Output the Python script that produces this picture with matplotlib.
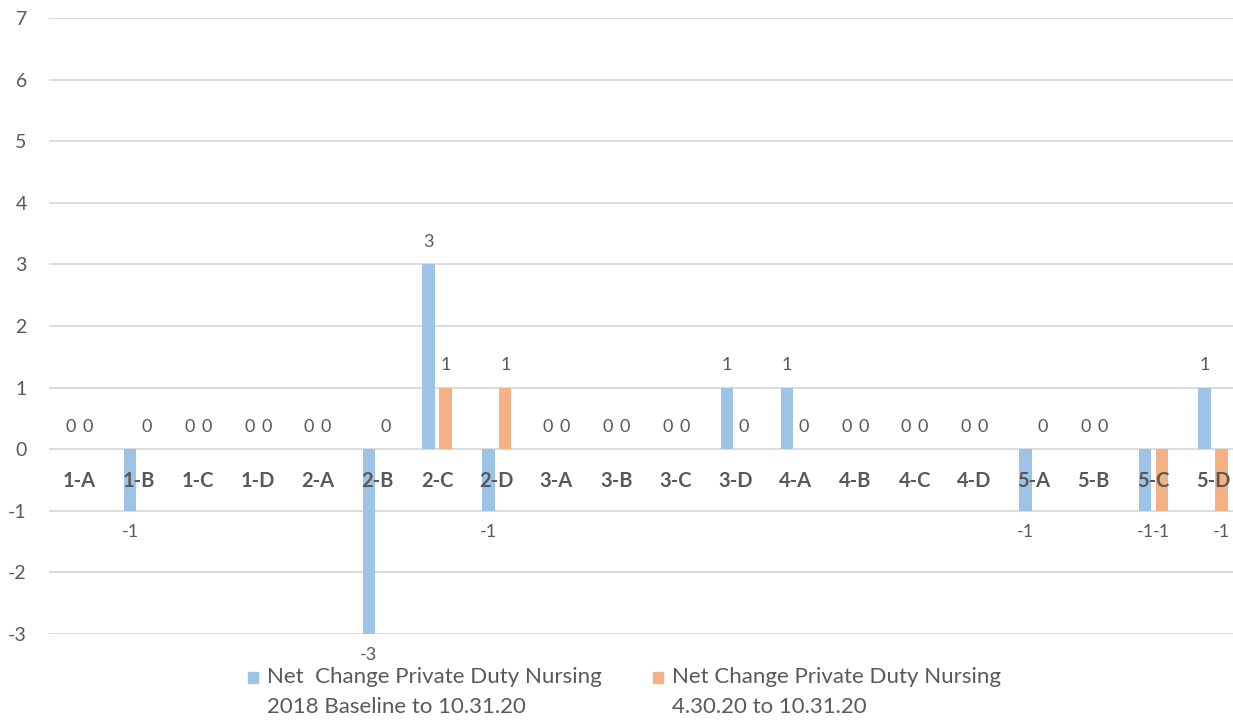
import matplotlib.pyplot as plt
from matplotlib.patches import Rectangle

categories = ["1-A", "1-B", "1-C", "1-D", "2-A", "2-B", "2-C", "2-D",
              "3-A", "3-B", "3-C", "3-D", "4-A", "4-B", "4-C", "4-D",
              "5-A", "5-B", "5-C", "5-D"]
since_baseline = [0, -1, 0, 0, 0, -3, 3, -1, 0, 0, 0, 1, 1, 0, 0, 0, -1, 0, -1, 1]
since_april = [0, 0, 0, 0, 0, 0, 1, 1, 0, 0, 0, 0, 0, 0, 0, 0, 0, 0, -1, -1]
series_names = ["Net  Change Private Duty Nursing\n2018 Baseline to 10.31.20",
                "Net Change Private Duty Nursing\n4.30.20 to 10.31.20"]
y_ticks = list(range(-3, 8))

BLUE = "#9DC3E6"
ORANGE = "#F4B183"
GREY = "#595959"
W, H = 1233, 723


def label_bars(ax, xs, values):
    for x, v in zip(xs, values):
        off = -15 if v < 0 else 16
        ax.annotate(str(v), (x, v), xytext=(0, off), textcoords="offset points",
                    ha="center", va="center", fontsize=13, color=GREY,
                    annotation_clip=False)


def legend_entry(fig, x, y, color, text):
    # square marker lined up with the first text line
    fig.patches.append(Rectangle((x / W, 1 - (y + 6) / H), 10 / W, 11 / H,
                                 transform=fig.transFigure, color=color))
    fig.text((x + 19) / W, 1 - (y - 10) / H, text, ha="left", va="top",
             fontsize=16, color=GREY, linespacing=1.6)


def main():
    plt.rcParams["font.family"] = ["Lato", "DejaVu Sans"]
    plt.rcParams["axes.unicode_minus"] = False
    fig = plt.figure(figsize=(12.33, 7.23), dpi=100)
    ax = fig.add_axes([49 / W, 89 / H, 1194 / W, 616 / H])

    xs = list(range(len(categories)))
    w = 0.21
    shift = 0.142
    x_blue = [x - shift for x in xs]
    x_orange = [x + shift for x in xs]
    ax.bar(x_blue, since_baseline, w, color=BLUE, zorder=2)
    ax.bar(x_orange, since_april, w, color=ORANGE, zorder=2)
    label_bars(ax, x_blue, since_baseline)
    label_bars(ax, x_orange, since_april)

    ax.set_xlim(-0.5, len(categories) - 0.5)
    ax.set_ylim(-3, 7)
    ax.set_yticks(y_ticks)
    ax.yaxis.grid(True, color="#D9D9D9", linewidth=1.3)
    ax.yaxis.set_zorder(0.5)
    ax.tick_params(axis="y", length=0, pad=16, labelsize=14, labelcolor=GREY)

    # category names sit just under the zero line, drawn over the bars
    ax.spines["bottom"].set_position(("data", 0))
    ax.set_xticks(xs)
    ax.set_xticklabels(categories, fontweight="bold")
    ax.xaxis.set_zorder(5)
    ax.tick_params(axis="x", length=0, pad=16, labelsize=14.5, labelcolor=GREY)
    for side in ["top", "right", "left", "bottom"]:
        ax.spines[side].set_visible(False)

    legend_entry(fig, 248, 677, BLUE, series_names[0])
    legend_entry(fig, 653, 677, ORANGE, series_names[1])

    fig.savefig("out.png", dpi=100)


if __name__ == "__main__":
    main()
